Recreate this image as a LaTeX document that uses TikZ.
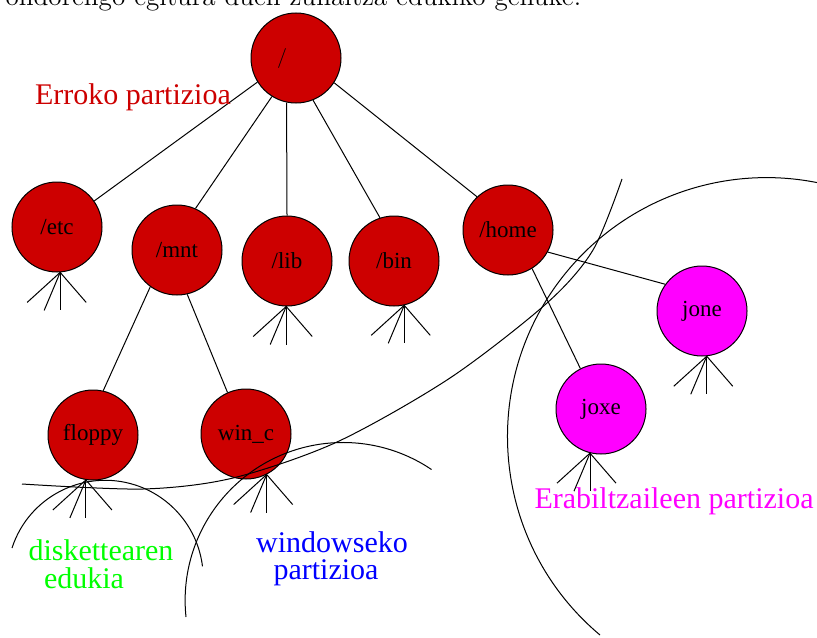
\documentclass[tikz,border=0pt]{standalone}
\usepackage{fontspec}
\newfontfamily\figfont{Liberation Serif}
\definecolor{dirred}{RGB}{205,0,0}
\definecolor{usrmag}{RGB}{255,0,255}
\definecolor{floppygreen}{RGB}{0,255,0}
\definecolor{winblue}{RGB}{0,0,255}
\tikzset{
  dirnode/.style={circle,draw,fill=dirred,minimum size=45pt,inner sep=0pt,
    font=\figfont\fontsize{11.5}{13}\selectfont},
  usrnode/.style={dirnode,fill=usrmag},
  partlabel/.style={font=\figfont\fontsize{15}{18}\selectfont,inner sep=0pt},
}
% lines hanging under a directory
\newcommand\fan[1]{\foreach \dx/\dy in {-33/30,-16/38,0/38,26/30}
  \draw (#1) -- ++(\dx,\dy);}

\begin{document}
\begin{tikzpicture}[x=0.5pt,y=-0.5pt,line width=0.5pt]
\useasboundingbox (0,0) rectangle (817,637);
\node[anchor=base west,inner sep=0pt,font=\fontsize{13.6}{16}\selectfont] (txt) at (5,5)
  {ondorengo egitura duen zuhaitza edukiko genuke.};

% directories
\node[dirnode,label={[xshift=-7pt]center:/}] (root) at (296,58) {};
\node[dirnode] (etc) at (57,227) {/etc};
\node[dirnode] (mnt) at (177,250) {/mnt};
\node[dirnode] (lib) at (287,261) {/lib};
\node[dirnode] (bin) at (394,261) {/bin};
\node[dirnode] (home) at (508,230) {/home};
\node[dirnode] (floppy) at (93,435) {floppy};
\node[dirnode] (winc) at (246,434) {win\_c};
\node[usrnode] (jone) at (702,311) {jone};
\node[usrnode] (joxe) at (601,409) {joxe};

\draw (root.-148) -- (etc.35);
\draw (root.-122) -- (mnt.66);
\draw (root.-102) -- (lib.north);
\draw (root.-68) -- (bin.108);
\draw (root.-33) -- (home.133);
\draw (mnt.-126) -- (floppy.77);
\draw (mnt.-77) -- (winc.114);
\draw (home.-29) -- (jone.144);
\draw (home.-58) -- (joxe.117);

\fan{etc.-86}
\fan{lib.-91}
\fan{bin.-77}
\fan{floppy.-99}
\fan{winc.-63}
\fan{jone.-84}
\fan{joxe.-104}

% partitions
\draw plot[smooth] coordinates {(22,484) (143,489) (233,478) (337,442) (450,378) (547,303) (593,250) (622,179)};
\draw (12,548) arc[start angle=198,end angle=353,radius=98];
\draw (186,617) arc[start angle=174,end angle=304,radius=158];
\draw (600,635) arc[start angle=130,end angle=282,radius=259];

\node[partlabel,text=dirred] (lroot) at (133,97) {Erroko partizioa};
\node[partlabel,text=floppygreen] (lfd1) at (101,550) {diskettearen};
\node[partlabel,text=floppygreen] (lfd2) at (84,578) {edukia};
\node[partlabel,text=winblue] (lwin1) at (332,542) {windowseko};
\node[partlabel,text=winblue] (lwin2) at (326,573) {partizioa};
\node[partlabel,text=usrmag] (lusr) at (674,501) {Erabiltzaileen partizioa};
\end{tikzpicture}
\end{document}
